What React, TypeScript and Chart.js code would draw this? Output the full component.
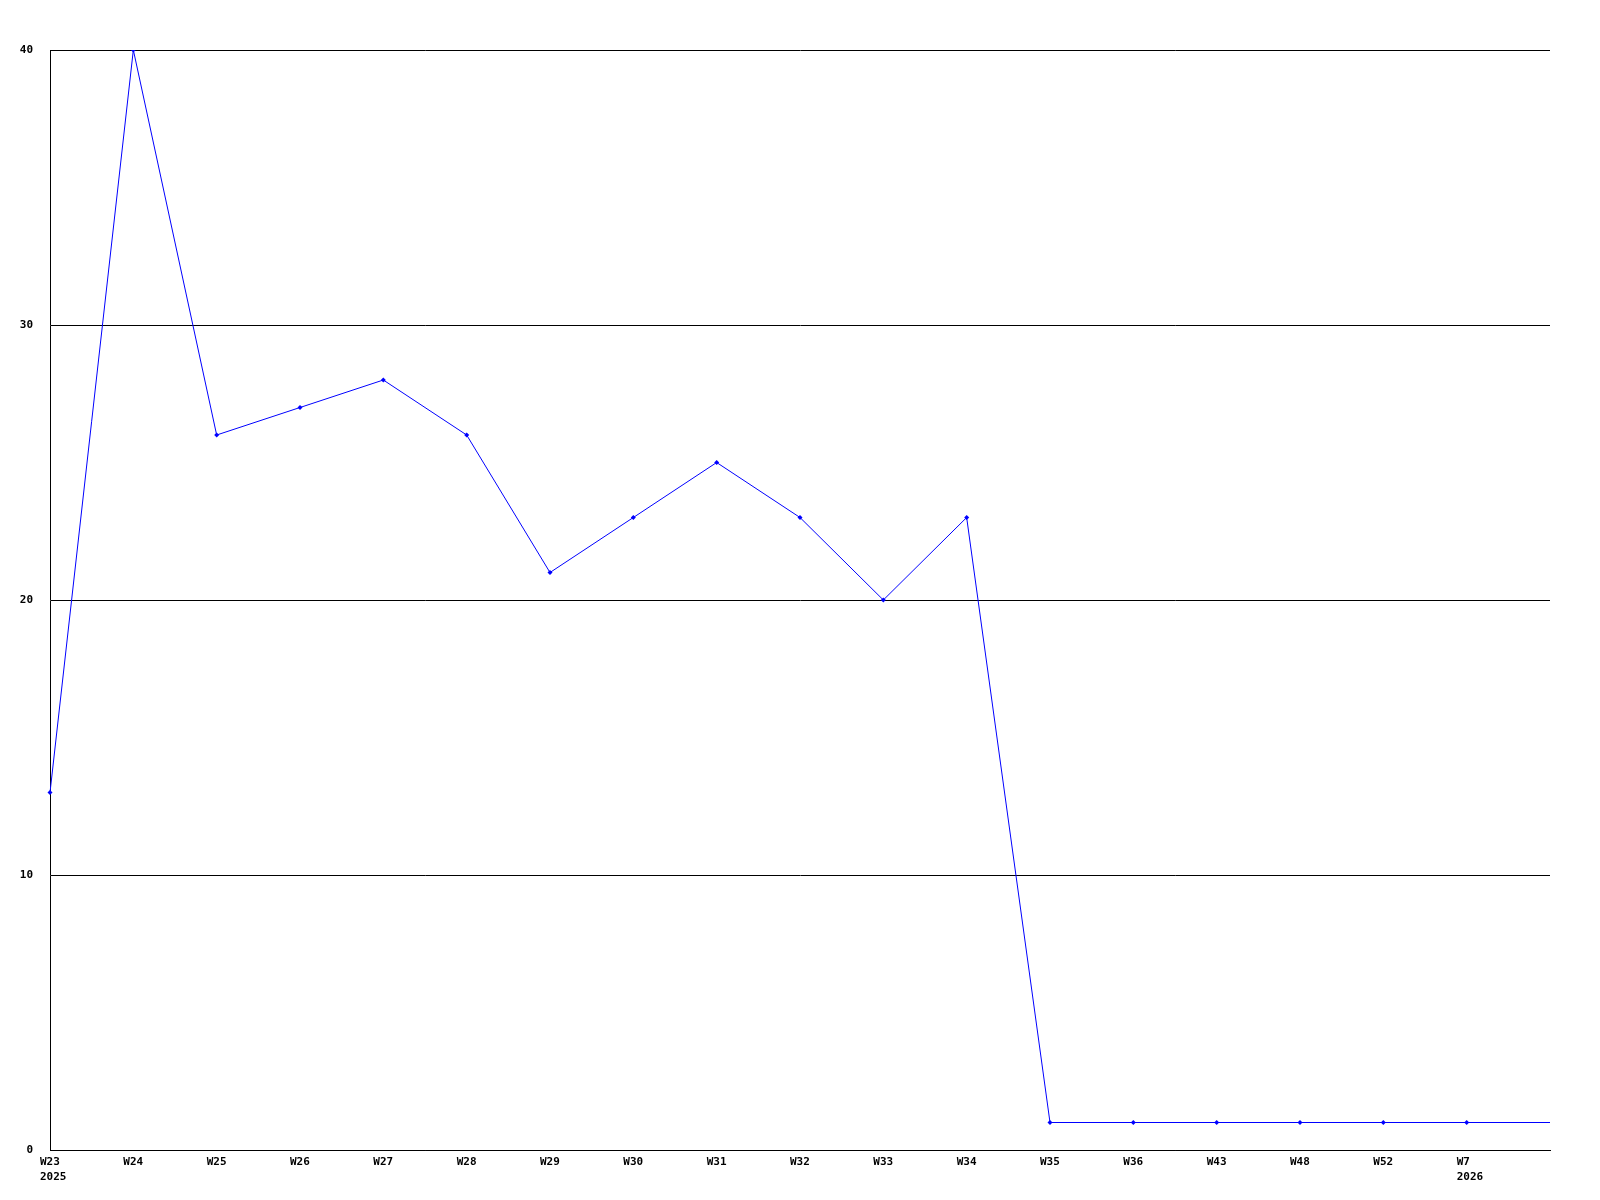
import React, { useEffect, useRef } from "react";
import { Chart, registerables } from "chart.js";

Chart.register(...registerables);

const weeks = ["W23", "W24", "W25", "W26", "W27", "W28", "W29", "W30", "W31", "W32", "W33", "W34", "W35", "W36", "W43", "W48", "W52", "W7", ""];
const years = ["2025", "", "", "", "", "", "", "", "", "", "", "", "", "", "", "", "", "2026", ""];
const counts = [13, 40, 26, 27, 28, 26, 21, 23, 25, 23, 20, 23, 1, 1, 1, 1, 1, 1, 1];
const markerSizes = [2.5, 2.5, 2.5, 2.5, 2.5, 2.5, 2.5, 2.5, 2.5, 2.5, 2.5, 2.5, 2.5, 2.5, 2.5, 2.5, 2.5, 2.5, 0];
const yTicks = [0, 10, 20, 30, 40];

const FONT = "'DejaVu Sans Mono', 'Liberation Mono', monospace";

const xLabelPlugin = {
  id: "xLabels",
  afterDraw(chart: any) {
    const ctx = chart.ctx;
    const xs = chart.scales.x;
    const bottom = chart.chartArea.bottom;
    ctx.save();
    ctx.font = `bold 11px ${FONT}`;
    ctx.fillStyle = "#000";
    ctx.textAlign = "left";
    ctx.textBaseline = "middle";
    weeks.forEach((w, i) => {
      const px = xs.getPixelForValue(i);
      if (w) ctx.fillText(w, px - 10, bottom + 12);
      if (years[i]) ctx.fillText(years[i], px - 10, bottom + 27);
    });
    ctx.restore();
  },
};

export default function App() {
  const ref = useRef<HTMLCanvasElement>(null);
  useEffect(() => {
    if (!ref.current) return;
    const chart = new Chart(ref.current, {
      type: "line",
      data: {
        labels: weeks,
        datasets: [
          {
            data: counts,
            borderColor: "#0000ff",
            backgroundColor: "#0000ff",
            borderWidth: 1,
            pointStyle: "rectRot",
            pointRadius: markerSizes,
            pointBorderWidth: 0,
            tension: 0,
          },
        ],
      },
      options: {
        animation: false,
        responsive: false,
        devicePixelRatio: 1,
        layout: { padding: { top: 50, right: 50, left: 0, bottom: 0 } },
        plugins: { legend: { display: false }, tooltip: { enabled: false } },
        scales: {
          x: {
            type: "category",
            offset: false,
            grid: { display: false, drawTicks: false },
            border: { display: true, color: "#000", width: 1 },
            ticks: { display: false },
            afterFit: (s: any) => {
              s.height = 50;
            },
          },
          y: {
            min: 0,
            max: 40,
            afterBuildTicks: (s: any) => {
              s.ticks = yTicks.map((v) => ({ value: v }));
            },
            grid: { color: "#000", lineWidth: 1, drawTicks: false },
            border: { display: true, color: "#000", width: 1 },
            ticks: {
              padding: 17,
              color: "#000",
              font: { family: FONT, size: 11, weight: "bold" },
            },
            afterFit: (s: any) => {
              s.width = 50;
            },
          },
        },
      },
      plugins: [xLabelPlugin],
    });
    return () => chart.destroy();
  }, []);
  return (
    <div style={{ position: "fixed", left: 0, top: 0, width: 1600, height: 1200, background: "#fff" }}>
      <canvas ref={ref} width={1600} height={1200} style={{ width: 1600, height: 1200 }} />
    </div>
  );
}
